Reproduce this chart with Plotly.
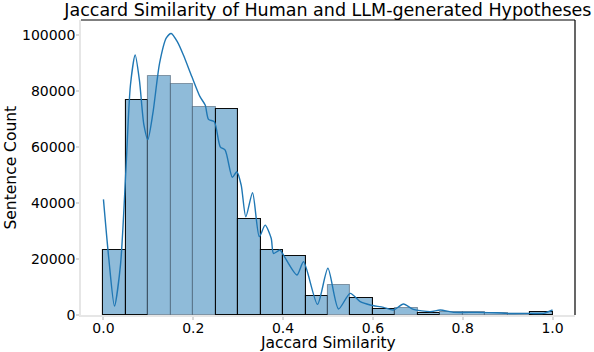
import plotly.graph_objects as go

# Histogram bins (left edges, width 0.05) and counts
bin_left = [0.00, 0.05, 0.10, 0.15, 0.20, 0.25, 0.30, 0.35, 0.40, 0.45,
            0.50, 0.55, 0.60, 0.65, 0.70, 0.75, 0.80, 0.85, 0.90, 0.95]
counts = [23100, 76800, 85400, 82400, 74200, 73500, 34200, 23100, 21000, 6900,
          10700, 5900, 2050, 2600, 650, 1200, 950, 800, 350, 950]
BIN_W = 0.05

# KDE curve points
kde_x = [0.000, 0.012, 0.0245, 0.038, 0.050, 0.060, 0.0706, 0.080, 0.090, 0.0988,
         0.110, 0.125, 0.140, 0.1508, 0.165, 0.178, 0.197, 0.215, 0.2265, 0.234,
         0.247, 0.260, 0.271, 0.287, 0.297, 0.3067, 0.317, 0.332, 0.347, 0.360,
         0.3735, 0.3787, 0.393, 0.401, 0.431, 0.4455, 0.4766, 0.4998, 0.5234, 0.5494,
         0.5717, 0.594, 0.6236, 0.6459, 0.668, 0.690, 0.7276, 0.750, 0.7795, 0.8316,
         0.876, 0.898, 0.950, 0.980, 1.000]
kde_y = [41300, 20000, 3200, 18000, 51800, 82000, 92900, 84000, 68000, 62700,
         72000, 90000, 99000, 100600, 97500, 92900, 85100, 78000, 75000, 69900,
         69000, 60100, 58900, 49200, 51200, 46400, 35100, 43700, 28000, 32100,
         27400, 22000, 23200, 21400, 14300, 19000, 3800, 16700, 2140, 7740,
         4760, 3570, 2740, 1790, 3930, 2030, 1190, 1790, 950, 950,
         820, 570, 570, 600, 1790]

x_ticks = [0.0, 0.2, 0.4, 0.6, 0.8, 1.0]
y_ticks = [0, 20000, 40000, 60000, 80000, 100000]

black_edge = {0, 1, 5, 6, 7, 8, 9, 11, 12, 14, 19}
edge_colors = ["rgba(0,0,0,0.95)" if i in black_edge else "rgba(40,60,80,0.45)"
               for i in range(len(bin_left))]

centers = [b + BIN_W / 2 for b in bin_left]

fig = go.Figure()
fig.add_trace(go.Bar(
    x=centers, y=counts, width=BIN_W,
    marker=dict(color="rgb(143,187,217)", line=dict(color=edge_colors, width=1.1)),
    hoverinfo="skip", showlegend=False,
))
fig.add_trace(go.Scatter(
    x=kde_x, y=kde_y, mode="lines",
    line=dict(color="rgb(31,119,180)", width=1.4, shape="spline", smoothing=0.7),
    showlegend=False,
))

font = "DejaVu Sans, Verdana, sans-serif"
fig.update_layout(
    width=594, height=352,
    margin=dict(l=81, r=19, t=20, b=37),
    paper_bgcolor="white", plot_bgcolor="white",
    font=dict(family=font, size=14, color="black"),
    bargap=0,
    title=dict(text="Jaccard Similarity of Human and LLM-generated Hypotheses",
               x=0.552, xanchor="center", y=1 - 10 / 352, yanchor="middle",
               font=dict(size=17.5, family=font, color="black")),
    xaxis=dict(range=[-0.05, 1.05], tickvals=x_ticks,
               ticktext=[f"{v:.1f}" for v in x_ticks],
               showgrid=False, zeroline=False, automargin=False,
               showline=True, linecolor="#e6e6e6", linewidth=1.5,
               ticks="outside", ticklen=3, tickcolor="#d9d9d9", tickwidth=1.5,
               ticklabelstandoff=-4),
    yaxis=dict(range=[0, 105400], tickvals=y_ticks,
               ticktext=[str(v) for v in y_ticks],
               showgrid=False, zeroline=False, automargin=False,
               showline=True, linecolor="#e6e6e6", linewidth=1.5,
               ticks="outside", ticklen=3, tickcolor="#d9d9d9", tickwidth=1.5,
               ticklabelstandoff=-2),
    annotations=[
        dict(text="Jaccard Similarity", xref="paper", yref="paper",
             x=0.5, y=0, yshift=-28, xanchor="center", yanchor="middle",
             showarrow=False, font=dict(size=15.5)),
        dict(text="Sentence Count", xref="paper", yref="paper",
             x=0, y=0.5, xshift=-71, xanchor="center", yanchor="middle",
             textangle=-90, showarrow=False, font=dict(size=15.5)),
    ],
    shapes=[
        dict(type="line", xref="paper", yref="paper", x0=0, x1=1, y0=1, y1=1,
             line=dict(color="black", width=1.2)),
        dict(type="line", xref="paper", yref="paper", x0=1, x1=1, y0=0, y1=1,
             line=dict(color="black", width=1.2)),
    ],
)

fig.write_html("out.html", config={"displayModeBar": False},
               post_script="document.body.style.margin='0';")
